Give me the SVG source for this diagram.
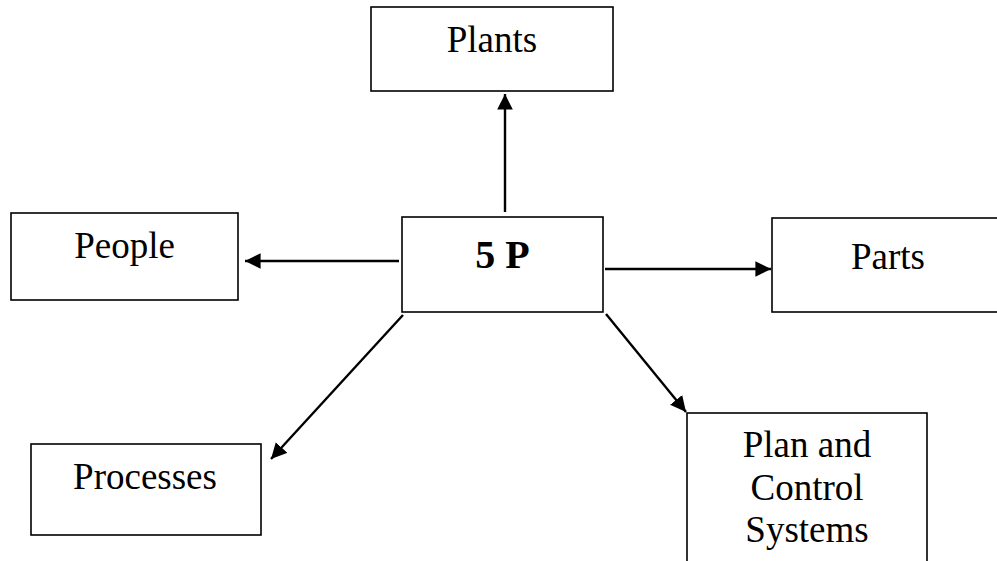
<svg xmlns="http://www.w3.org/2000/svg" width="997" height="561" viewBox="0 0 997 561">
<style>
.box{fill:#fff;stroke:#000;stroke-width:1.6}
.t{font-family:"Liberation Serif","Times New Roman",serif;font-size:37px;fill:#000;text-anchor:middle}
.b{font-weight:bold;font-size:40px}
.c{stroke:#000;stroke-width:2.4;fill:none;marker-end:url(#ah)}
</style>
<defs>
<marker id="ah" viewBox="0 0 10 10" refX="10" refY="5" markerWidth="6.5" markerHeight="7" markerUnits="strokeWidth" orient="auto">
<path d="M0,0 L10,5 L0,10 z" fill="#000"/>
</marker>
</defs>
<rect width="997" height="561" fill="#fff"/>
<g id="connectors">
<line class="c" x1="505" y1="212" x2="505" y2="94"/>
<line class="c" x1="399" y1="261" x2="245" y2="261"/>
<line class="c" x1="605" y1="269" x2="771" y2="269"/>
<line class="c" x1="403" y1="315" x2="271" y2="459"/>
<line class="c" x1="606" y1="314" x2="686" y2="412"/>
</g>
<g id="center">
<rect class="box" x="402" y="217" width="201" height="95"/>
<text class="t b" x="502.5" y="268">5 P</text>
</g>
<g id="plants">
<rect class="box" x="371" y="7" width="242" height="84"/>
<text class="t" x="492" y="52">Plants</text>
</g>
<g id="people">
<rect class="box" x="11" y="213" width="227" height="87"/>
<text class="t" x="124.5" y="258">People</text>
</g>
<g id="parts">
<rect class="box" x="772" y="218" width="232" height="94"/>
<text class="t" x="888" y="269">Parts</text>
</g>
<g id="processes">
<rect class="box" x="31" y="444" width="230" height="91"/>
<text class="t" x="145" y="489">Processes</text>
</g>
<g id="plan">
<rect class="box" x="687" y="413" width="240" height="160"/>
<text class="t" x="807" y="457">Plan and</text>
<text class="t" x="807" y="500">Control</text>
<text class="t" x="807" y="542">Systems</text>
</g>
</svg>
